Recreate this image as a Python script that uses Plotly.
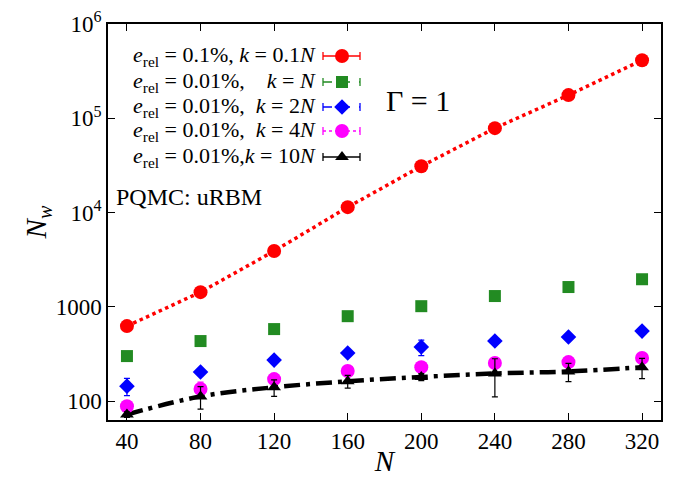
import plotly.graph_objects as go

# ---- data ----
N = [40, 80, 120, 160, 200, 240, 280, 320]
nw_01_k01 = [624, 1430, 3900, 11400, 31000, 78500, 176000, 413000]
nw_001_k1 = [300, 433, 580, 795, 1015, 1300, 1620, 1960]
nw_001_k2 = [144, 203, 272, 323, 374, 433, 478, 552]
err_001_k2 = [30, 15, 12, 18, 70, 15, 15, 10]
nw_001_k4 = [88, 134, 171, 208, 229, 253, 259, 286]
err_001_k4 = [8, 25, 15, 15, 20, 25, 25, 15]
nw_001_k10 = [72, 112, 140, 162, 180, 196, 206, 228]
err_001_k10 = [5, 30, 28, 25, 15, 85, 45, 55]

legend_texts = [
    "<i>e</i><sub>rel</sub> = 0.1%, <i>k</i> = 0.1<i>N</i>",
    "<i>e</i><sub>rel</sub> = 0.01%,\u00a0\u00a0\u00a0\u00a0<i>k</i> = <i>N</i>",
    "<i>e</i><sub>rel</sub> = 0.01%,\u00a0 <i>k</i> = 2<i>N</i>",
    "<i>e</i><sub>rel</sub> = 0.01%,\u00a0 <i>k</i> = 4<i>N</i>",
    "<i>e</i><sub>rel</sub> = 0.01%,<i>k</i> = 10<i>N</i>",
]
y_tickvals = [100, 1000, 10000, 100000, 1000000]
y_ticktext = ["100", "1000", "10<sup>4</sup>", "10<sup>5</sup>", "10<sup>6</sup>"]

# ---- styles ----
colors = ["#ff0000", "#228b22", "#0000ff", "#ff00ff", "#000000"]
symbols = ["circle", "square", "diamond", "circle", "triangle-up"]
sizes = [14, 12, 12, 14, 12]
leg_dash = ["solid", "dash", "dash", "dot", "solid"]
FONT = "Liberation Serif"

W, H = 681, 477
L, R, T, B = 108, 661, 24, 420

fig = go.Figure()

# fit-like lines
fig.add_trace(go.Scatter(x=N, y=nw_01_k01, mode="lines",
                         line=dict(color=colors[0], width=3.5, dash="dot"),
                         showlegend=False, hoverinfo="skip"))
fig.add_trace(go.Scatter(x=N, y=nw_001_k10, mode="lines",
                         line=dict(color="black", width=4.5, dash="16px,6px,4px,6px", shape="spline"),
                         showlegend=False, hoverinfo="skip"))

series = [
    (nw_01_k01, None),
    (nw_001_k1, None),
    (nw_001_k2, err_001_k2),
    (nw_001_k4, err_001_k4),
    (nw_001_k10, err_001_k10),
]
for i, (vals, err) in enumerate(series):
    kw = {}
    if err is not None:
        kw["error_y"] = dict(type="data", array=err, visible=True,
                             color=colors[i], thickness=1.2, width=3)
    fig.add_trace(go.Scatter(x=N, y=vals, mode="markers",
                             marker=dict(color=colors[i], symbol=symbols[i], size=sizes[i],
                                         line=dict(width=0)),
                             showlegend=False, **kw))

# ---- custom legend (text left, sample right) on an overlay axis ----
def fx(px):
    return (px - L) / (R - L)

def fy(py):
    return (B - py) / (B - T)

rows_py = [56, 82, 107, 131, 157]
x0, x1, xc = 323, 360, 342
for i, py in enumerate(rows_py):
    y = fy(py)
    fig.add_trace(go.Scatter(x=[fx(x0), fx(x1)], y=[y, y], xaxis="x2", yaxis="y2",
                             mode="lines", line=dict(color=colors[i], width=1.3, dash=leg_dash[i]),
                             showlegend=False, hoverinfo="skip"))
    capx = [fx(x0), fx(x0), None, fx(x1), fx(x1)]
    capy = [fy(py - 4), fy(py + 4), None, fy(py - 4), fy(py + 4)]
    fig.add_trace(go.Scatter(x=capx, y=capy, xaxis="x2", yaxis="y2",
                             mode="lines", line=dict(color=colors[i], width=1.3),
                             showlegend=False, hoverinfo="skip"))
    fig.add_trace(go.Scatter(x=[fx(xc)], y=[y], xaxis="x2", yaxis="y2", mode="markers",
                             marker=dict(color=colors[i], symbol=symbols[i], size=sizes[i],
                                         line=dict(width=0)),
                             showlegend=False, hoverinfo="skip"))
    fig.add_annotation(x=fx(318), y=y, xref="paper", yref="paper", text=legend_texts[i],
                       showarrow=False, xanchor="right", yanchor="middle",
                       font=dict(family=FONT, size=22, color="black"))

fig.add_annotation(x=fx(384), y=fy(101), xref="paper", yref="paper", text="Γ = 1",
                   showarrow=False, xanchor="left", yanchor="middle",
                   font=dict(family=FONT, size=30, color="black"))
fig.add_annotation(x=fx(114), y=fy(197), xref="paper", yref="paper", text="PQMC: uRBM",
                   showarrow=False, xanchor="left", yanchor="middle",
                   font=dict(family=FONT, size=24, color="black"))

axis_common = dict(showline=True, linecolor="black", linewidth=1.5, mirror="ticks",
                   ticks="inside", ticklen=7, tickwidth=1.2, tickcolor="black",
                   showgrid=False, zeroline=False, automargin=False,
                   tickfont=dict(family=FONT, size=23, color="black"))

fig.update_layout(
    width=W, height=H,
    margin=dict(l=L, r=W - R, t=T, b=H - B, autoexpand=False),
    paper_bgcolor="white", plot_bgcolor="white",
    showlegend=False,
    xaxis=dict(range=[29.7, 330.3], tickvals=N,
               title=dict(text="<i>N</i>", font=dict(family=FONT, size=29, color="black"), standoff=2),
               **axis_common),
    yaxis=dict(type="log", range=[1.799, 6], tickvals=y_tickvals, ticktext=y_ticktext,
               title=dict(text="<i>N<sub>w</sub></i>", font=dict(family=FONT, size=29, color="black"), standoff=1),
               **axis_common),
    xaxis2=dict(overlaying="x", range=[0, 1], visible=False, fixedrange=True),
    yaxis2=dict(overlaying="y", range=[0, 1], visible=False, fixedrange=True),
)

fig.write_html("out.html")
